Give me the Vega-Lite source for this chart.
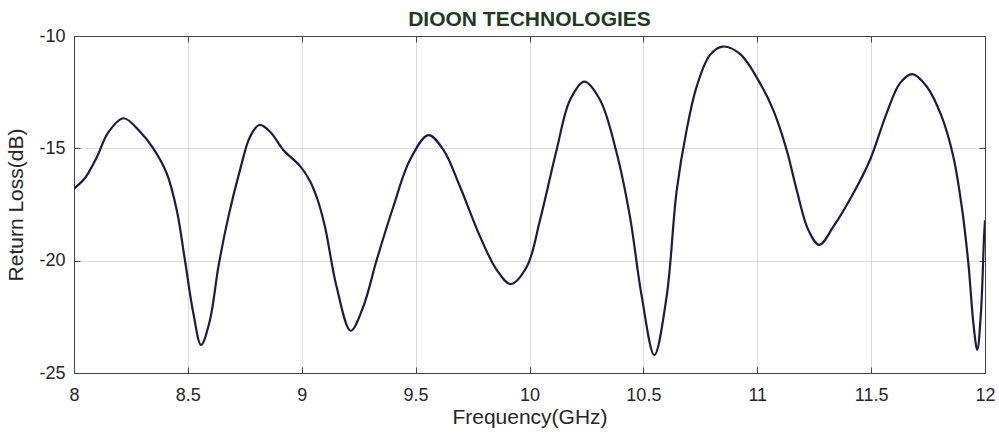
{
  "$schema": "https://vega.github.io/schema/vega-lite/v6.json",
  "autosize": "none",
  "width": 911,
  "height": 337,
  "padding": {"left": 74, "top": 36, "right": 14, "bottom": 64},
  "background": "white",
  "config": {
    "view": {"stroke": null},
    "font": "Liberation Sans"
  },
  "title": {
    "text": "DIOON TECHNOLOGIES",
    "font": "Liberation Sans",
    "fontSize": 21,
    "fontWeight": "bold",
    "color": "#1f3b1f",
    "anchor": "middle",
    "offset": -3
  },
  "data": {
    "values": [
      {"f": 8.0, "rl": -16.8},
      {"f": 8.05, "rl": -16.3},
      {"f": 8.1, "rl": -15.4},
      {"f": 8.15, "rl": -14.3},
      {"f": 8.217, "rl": -13.66},
      {"f": 8.29, "rl": -14.26},
      {"f": 8.348, "rl": -15.0},
      {"f": 8.407, "rl": -16.11},
      {"f": 8.451, "rl": -17.74},
      {"f": 8.487, "rl": -19.97},
      {"f": 8.524, "rl": -22.34},
      {"f": 8.558, "rl": -23.75},
      {"f": 8.597, "rl": -22.64},
      {"f": 8.634, "rl": -20.27},
      {"f": 8.678, "rl": -18.04},
      {"f": 8.729, "rl": -15.96},
      {"f": 8.773, "rl": -14.48},
      {"f": 8.814, "rl": -13.96},
      {"f": 8.861, "rl": -14.26},
      {"f": 8.919, "rl": -15.07},
      {"f": 8.992, "rl": -15.78},
      {"f": 9.036, "rl": -16.45},
      {"f": 9.07, "rl": -17.3},
      {"f": 9.102, "rl": -18.49},
      {"f": 9.153, "rl": -21.16},
      {"f": 9.215, "rl": -23.12},
      {"f": 9.27, "rl": -22.05},
      {"f": 9.329, "rl": -19.97},
      {"f": 9.402, "rl": -17.6},
      {"f": 9.475, "rl": -15.52},
      {"f": 9.556, "rl": -14.41},
      {"f": 9.622, "rl": -15.07},
      {"f": 9.695, "rl": -16.71},
      {"f": 9.783, "rl": -18.93},
      {"f": 9.856, "rl": -20.41},
      {"f": 9.917, "rl": -21.04},
      {"f": 9.988, "rl": -20.27},
      {"f": 10.046, "rl": -18.2},
      {"f": 10.119, "rl": -15.07},
      {"f": 10.178, "rl": -12.85},
      {"f": 10.241, "rl": -12.03},
      {"f": 10.31, "rl": -12.85},
      {"f": 10.383, "rl": -15.22},
      {"f": 10.441, "rl": -18.04},
      {"f": 10.493, "rl": -21.6},
      {"f": 10.548, "rl": -24.2},
      {"f": 10.602, "rl": -21.6},
      {"f": 10.646, "rl": -16.9},
      {"f": 10.69, "rl": -14.18},
      {"f": 10.734, "rl": -12.25},
      {"f": 10.792, "rl": -10.85},
      {"f": 10.848, "rl": -10.47},
      {"f": 10.924, "rl": -10.8},
      {"f": 11.012, "rl": -12.1},
      {"f": 11.07, "rl": -13.29},
      {"f": 11.129, "rl": -15.07},
      {"f": 11.173, "rl": -16.85},
      {"f": 11.224, "rl": -18.63},
      {"f": 11.272, "rl": -19.3},
      {"f": 11.334, "rl": -18.49},
      {"f": 11.422, "rl": -17.0},
      {"f": 11.495, "rl": -15.52},
      {"f": 11.568, "rl": -13.44},
      {"f": 11.627, "rl": -12.1},
      {"f": 11.681, "rl": -11.7},
      {"f": 11.744, "rl": -12.25},
      {"f": 11.81, "rl": -13.59},
      {"f": 11.861, "rl": -15.37},
      {"f": 11.898, "rl": -17.6},
      {"f": 11.927, "rl": -20.12},
      {"f": 11.949, "rl": -22.79},
      {"f": 11.966, "rl": -23.97},
      {"f": 11.982, "rl": -22.34},
      {"f": 11.996, "rl": -18.9},
      {"f": 12.0, "rl": -18.2}
    ]
  },
  "layer": [
    {
      "mark": {"type": "line", "interpolate": "catmull-rom", "color": "#1b1b4b", "strokeWidth": 2.2, "clip": true},
      "encoding": {
        "x": {
          "field": "f", "type": "quantitative",
          "scale": {"domain": [8, 12], "nice": false, "zero": false},
          "axis": {
            "orient": "bottom", "values": [8, 8.5, 9, 9.5, 10, 10.5, 11, 11.5, 12],
            "labelExpr": "'' + datum.value",
            "title": "Frequency(GHz)", "titleFontSize": 21, "titleFontWeight": "normal", "titleColor": "#262626", "titlePadding": 2,
            "labelFontSize": 18, "labelColor": "#262626", "labelPadding": 19,
            "tickSize": -6, "tickColor": "#444", "domainColor": "#444",
            "grid": true, "gridColor": "#dcdcdc", "labelFlush": false
          }
        },
        "y": {
          "field": "rl", "type": "quantitative",
          "scale": {"domain": [-25, -10], "nice": false, "zero": false},
          "axis": {
            "orient": "left", "values": [-25, -20, -15, -10],
            "labelExpr": "'' + datum.value",
            "title": "Return Loss(dB)", "titleFontSize": 21, "titleFontWeight": "normal", "titleColor": "#262626", "titlePadding": 12,
            "labelFontSize": 18, "labelColor": "#262626", "labelPadding": 15,
            "tickSize": -6, "tickColor": "#444", "domainColor": "#444",
            "grid": true, "gridColor": "#dcdcdc", "labelFlush": false
          }
        }
      }
    },
    {
      "mark": {"type": "line", "interpolate": "catmull-rom", "opacity": 0},
      "encoding": {
        "x": {
          "field": "f", "type": "quantitative",
          "axis": {"orient": "top", "values": [8, 8.5, 9, 9.5, 10, 10.5, 11, 11.5, 12], "labels": false, "title": null, "tickSize": -6, "tickColor": "#444", "domainColor": "#444", "grid": false}
        },
        "y": {
          "field": "rl", "type": "quantitative",
          "axis": {"orient": "right", "values": [-25, -20, -15, -10], "labels": false, "title": null, "tickSize": -6, "tickColor": "#444", "domainColor": "#444", "grid": false}
        }
      }
    }
  ],
  "resolve": {"axis": {"x": "independent", "y": "independent"}}
}
